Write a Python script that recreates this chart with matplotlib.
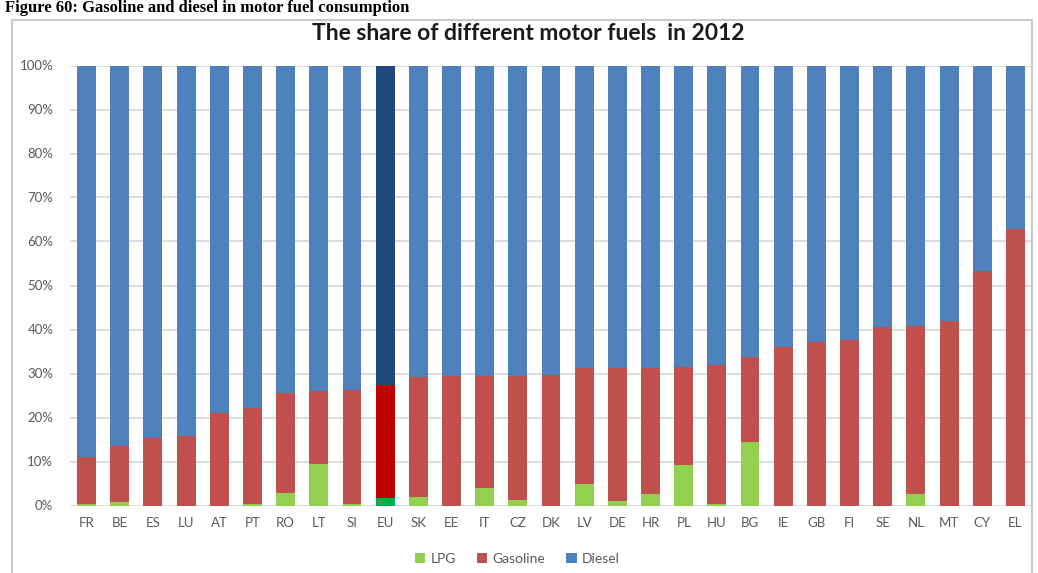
import numpy as np
import matplotlib
matplotlib.use('Agg')
import matplotlib.pyplot as plt
from matplotlib.patches import Rectangle

countries = ['FR', 'BE', 'ES', 'LU', 'AT', 'PT', 'RO', 'LT', 'SI', 'EU', 'SK', 'EE', 'IT', 'CZ', 'DK',
             'LV', 'DE', 'HR', 'PL', 'HU', 'BG', 'IE', 'GB', 'FI', 'SE', 'NL', 'MT', 'CY', 'EL']
lpg = [0.3, 0.8, 0.0, 0.0, 0.0, 0.4, 2.9, 9.5, 0.3, 1.7, 2.0, 0.0, 4.0, 1.2, 0.0,
       5.0, 1.0, 2.6, 9.2, 0.4, 14.4, 0.0, 0.0, 0.0, 0.0, 2.6, 0.0, 0.0, 0.0]
gasoline = [10.8, 12.8, 15.3, 15.8, 21.1, 21.8, 22.6, 16.5, 25.9, 25.7, 27.1, 29.5, 25.5, 28.3, 29.6,
            26.2, 30.2, 28.7, 22.2, 31.5, 19.4, 36.0, 37.2, 37.7, 40.5, 38.3, 42.0, 53.3, 62.8]
diesel = [100 - l - g for l, g in zip(lpg, gasoline)]
series_names = ['LPG', 'Gasoline', 'Diesel']

COLORS = {'LPG': '#92d050', 'Gasoline': '#c0504d', 'Diesel': '#4f81bd'}
EU_COLORS = {'LPG': '#00b050', 'Gasoline': '#c00000', 'Diesel': '#1f497d'}

plt.rcParams['font.family'] = ['Lato', 'DejaVu Sans']

fig = plt.figure(figsize=(10.38, 5.73), dpi=100)
W, H = 1038, 573

# chart frame
fig.patches.append(Rectangle((12 / W, -0.02), 1020 / W, (H - 20) / H + 0.02,
                             transform=fig.transFigure, fill=False,
                             edgecolor='#bfbfbf', linewidth=1.2))

fig.text(0.005, 1.0, 'Figure 60: Gasoline and diesel in motor fuel consumption',
         family=['Liberation Serif'], fontweight='bold', fontsize=12,
         ha='left', va='top', color='black')

fig.text(528 / W, 1 - 33 / H, 'The share of different motor fuels  in 2012',
         fontsize=16.5, fontweight='bold', color='#1a1a1a', ha='center', va='center')

ax = fig.add_axes([70 / W, 67.5 / H, 962 / W, 440 / H])

x = np.arange(len(countries))
bottom = np.zeros(len(countries))
vals = {'LPG': np.array(lpg), 'Gasoline': np.array(gasoline), 'Diesel': np.array(diesel)}
for name in series_names:
    cols = [EU_COLORS[name] if c == 'EU' else COLORS[name] for c in countries]
    ax.bar(x, vals[name] / 100, bottom=bottom, width=0.57, color=cols,
           label=name, zorder=3)
    bottom += vals[name] / 100

ax.set_xlim(-0.5, len(countries) - 0.5)
ax.set_ylim(0, 1)
ax.set_yticks(np.arange(0, 1.01, 0.1))
ax.set_yticklabels([f'{int(round(v * 100))}%' for v in np.arange(0, 1.01, 0.1)])
ax.set_xticks(x)
ax.set_xticklabels(countries)
ax.tick_params(axis='both', length=0, labelsize=9.5, colors='#595959')
ax.tick_params(axis='y', pad=12)
ax.tick_params(axis='x', pad=8)
ax.grid(axis='y', color='#d9d9d9', linewidth=1.3, zorder=0)
for s in ax.spines.values():
    s.set_visible(False)

ax.legend(loc='upper center', bbox_to_anchor=(0.465, -0.08), ncol=3, frameon=False,
          fontsize=10, handlelength=0.75, handleheight=0.75, handletextpad=0.4,
          columnspacing=1.5, labelcolor='#595959')

fig.savefig('out.png', dpi=100)
